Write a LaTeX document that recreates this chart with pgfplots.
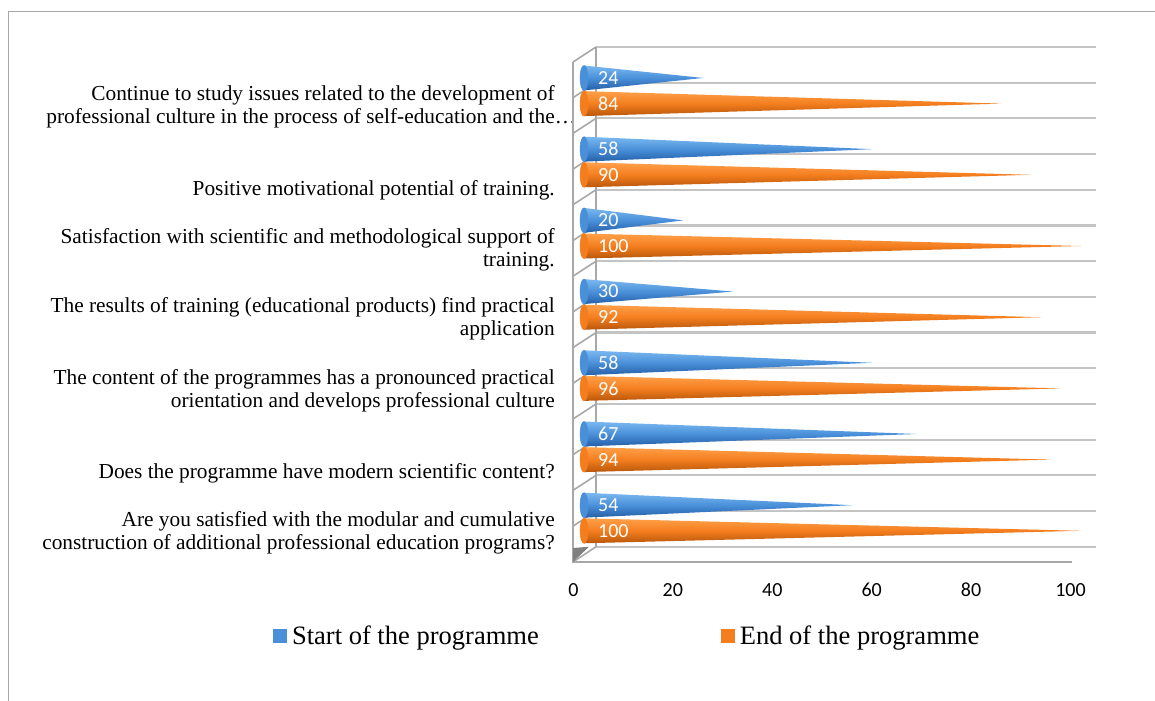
\documentclass[border=0pt]{standalone}
\usepackage{pgfplots}
\pgfplotsset{compat=1.18}
\usepackage{fontspec}
\setmainfont{Liberation Serif}
\newfontfamily\calibri{Carlito}
\definecolor{blT}{HTML}{7AB8F0}
\definecolor{blM}{HTML}{4A90D9}
\definecolor{blB}{HTML}{2460A8}
\definecolor{orT}{HTML}{FFA04A}
\definecolor{orM}{HTML}{F47E1E}
\definecolor{orB}{HTML}{B8570C}
\definecolor{gridc}{HTML}{C4C4C4}
\definecolor{wallc}{HTML}{A8A8A8}
\pgfplotsset{
  bcone/.style={draw=none, forget plot, top color=blT, bottom color=blB, middle color=blM},
  ocone/.style={draw=none, forget plot, top color=orT, bottom color=orB, middle color=orM},
}
\begin{document}
\begin{tikzpicture}
\useasboundingbox (0pt,0pt) rectangle (866.25pt,525pt);
\draw[line width=0.75pt, color=wallc] (6pt,-2pt) -- (6pt,516pt) -- (870pt,516pt);
\begin{axis}[
  at={(429.75pt,103.5pt)}, anchor=south west,
  scale only axis, width=392.25pt, height=386.25pt,
  xmin=-2.213, xmax=103.02, ymin=-0.618, ymax=6.615,
  clip=false,
  axis line style={draw=none},
  major tick length=0pt,
  xtick={0,20,40,60,80,100},
  /pgf/number format/assume math mode=true,
  xticklabel style={font=\calibri\fontsize{15pt}{18pt}\selectfont, anchor=base, yshift=-25.9pt, xshift=-7.9pt},
  ytick={-0.211,0.632,1.791,2.795,3.771,4.607,5.78},
  yticklabels={
    {Are you satisfied with the modular and cumulative\\construction of additional professional education programs?},
    {Does the programme have modern scientific content?},
    {The content of the programmes has a pronounced practical\\orientation and develops professional culture},
    {The results of training (educational products) find practical\\application},
    {Satisfaction with scientific and methodological support of\\training.},
    {Positive motivational potential of training.},
    {Continue to study issues related to the development of\\professional culture in the process of self-education and the\rlap{…}}
  },
  yticklabel style={font=\fontsize{16pt}{17.25pt}\selectfont, align=right, anchor=east, inner sep=0pt, xshift=-13.5pt},
  legend image code/.code={\fill[#1] (0pt,-5.25pt) rectangle (10.5pt,5.25pt);},
  legend style={draw=none, fill=none, inner sep=0pt, outer sep=0pt,
    at={(-0.5736,-0.1437)}, anchor=west, legend columns=2,
    font=\fontsize{19.9pt}{22pt}\selectfont,
    nodes={inner sep=0pt},
    /tikz/every odd column/.append style={column sep=3.75pt},
    /tikz/every even column/.append style={column sep=136.5pt}},
]
% back gridlines
\addplot[forget plot, color=gridc, line width=1.7pt, unbounded coords=jump] coordinates {
(2.414,6.615) (103.02,6.615) (2.414,nan)
(2.414,6.114) (103.02,6.114) (2.414,nan)
(2.414,5.613) (103.02,5.613) (2.414,nan)
(2.414,5.111) (103.02,5.111) (2.414,nan)
(2.414,4.610) (103.02,4.610) (2.414,nan)
(2.414,4.108) (103.02,4.108) (2.414,nan)
(2.414,3.607) (103.02,3.607) (2.414,nan)
(2.414,3.106) (103.02,3.106) (2.414,nan)
(2.414,2.604) (103.02,2.604) (2.414,nan)
(2.414,2.103) (103.02,2.103) (2.414,nan)
(2.414,1.601) (103.02,1.601) (2.414,nan)
(2.414,1.100) (103.02,1.100) (2.414,nan)
(2.414,0.599) (103.02,0.599) (2.414,nan)
(2.414,0.097) (103.02,0.097) (2.414,nan)
(2.414,-0.404) (103.02,-0.404)
};
% side wall diagonals
\addplot[forget plot, color=wallc, line width=1.2pt, unbounded coords=jump] coordinates {
(-2.213,6.404) (2.414,6.615) (2.414,nan)
(-2.213,5.903) (2.414,6.114) (2.414,nan)
(-2.213,5.402) (2.414,5.613) (2.414,nan)
(-2.213,4.900) (2.414,5.111) (2.414,nan)
(-2.213,4.399) (2.414,4.610) (2.414,nan)
(-2.213,3.897) (2.414,4.108) (2.414,nan)
(-2.213,3.396) (2.414,3.607) (2.414,nan)
(-2.213,2.895) (2.414,3.106) (2.414,nan)
(-2.213,2.393) (2.414,2.604) (2.414,nan)
(-2.213,1.892) (2.414,2.103) (2.414,nan)
(-2.213,1.390) (2.414,1.601) (2.414,nan)
(-2.213,0.889) (2.414,1.100) (2.414,nan)
(-2.213,0.388) (2.414,0.599) (2.414,nan)
(-2.213,-0.114) (2.414,0.097) (2.414,nan)
(-2.213,-0.618) (2.414,-0.404)
};
% walls: front and back verticals, floor front edge
\addplot[forget plot, color=wallc, line width=1.2pt, unbounded coords=jump] coordinates {
(2.414,-0.404) (2.414,6.615) (2.414,nan)
(-2.213,6.404) (-2.213,-0.618) (98.19,-0.618)
};
\addplot[forget plot, draw=none, fill=black!50] coordinates {(-2.213,-0.618) (-2.213,-0.421) (1.0,-0.404)} -- cycle;
% rounded bases
\addplot[forget plot, color=blM, only marks, mark=*, mark size=9.35pt, mark options={draw=blM, fill=blM, xscale=0.32}] coordinates {
(0,0.18) (0,1.18) (0,2.18) (0,3.18) (0,4.18) (0,5.18) (0,6.18)};
\addplot[forget plot, color=orM, only marks, mark=*, mark size=9.35pt, mark options={draw=orM, fill=orM, xscale=0.32}] coordinates {
(0,-0.18) (0,0.82) (0,1.82) (0,2.82) (0,3.82) (0,4.82) (0,5.82)};
% cones: start of the programme (blue), end of the programme (orange)
\addplot[bcone] coordinates {(0,0.005) (54,0.18) (0,0.355)} -- cycle;
\addplot[ocone] coordinates {(0,-0.355) (100,-0.18) (0,-0.005)} -- cycle;
\addplot[bcone] coordinates {(0,1.005) (67,1.18) (0,1.355)} -- cycle;
\addplot[ocone] coordinates {(0,0.645) (94,0.82) (0,0.995)} -- cycle;
\addplot[bcone] coordinates {(0,2.005) (58,2.18) (0,2.355)} -- cycle;
\addplot[ocone] coordinates {(0,1.645) (96,1.82) (0,1.995)} -- cycle;
\addplot[bcone] coordinates {(0,3.005) (30,3.18) (0,3.355)} -- cycle;
\addplot[ocone] coordinates {(0,2.645) (92,2.82) (0,2.995)} -- cycle;
\addplot[bcone] coordinates {(0,4.005) (20,4.18) (0,4.355)} -- cycle;
\addplot[ocone] coordinates {(0,3.645) (100,3.82) (0,3.995)} -- cycle;
\addplot[bcone] coordinates {(0,5.005) (58,5.18) (0,5.355)} -- cycle;
\addplot[ocone] coordinates {(0,4.645) (90,4.82) (0,4.995)} -- cycle;
\addplot[bcone] coordinates {(0,6.005) (24,6.18) (0,6.355)} -- cycle;
\addplot[ocone] coordinates {(0,5.645) (84,5.82) (0,5.995)} -- cycle;
% value labels
\addplot[forget plot, draw=none, mark=none, point meta=explicit symbolic,
  nodes near coords,
  every node near coord/.append style={anchor=west, text=white, inner sep=0pt, font=\calibri\fontsize{15pt}{18pt}\selectfont}]
  coordinates {
  (2.8,0.18) [54] (2.8,-0.18) [100]
  (2.8,1.18) [67] (2.8,0.82) [94]
  (2.8,2.18) [58] (2.8,1.82) [96]
  (2.8,3.18) [30] (2.8,2.82) [92]
  (2.8,4.18) [20] (2.8,3.82) [100]
  (2.8,5.18) [58] (2.8,4.82) [90]
  (2.8,6.18) [24] (2.8,5.82) [84]
};
\addlegendimage{fill=blM, draw=none}
\addlegendentry{Start of the programme}
\addlegendimage{fill=orM, draw=none}
\addlegendentry{End of the programme}
\end{axis}
\end{tikzpicture}
\end{document}
